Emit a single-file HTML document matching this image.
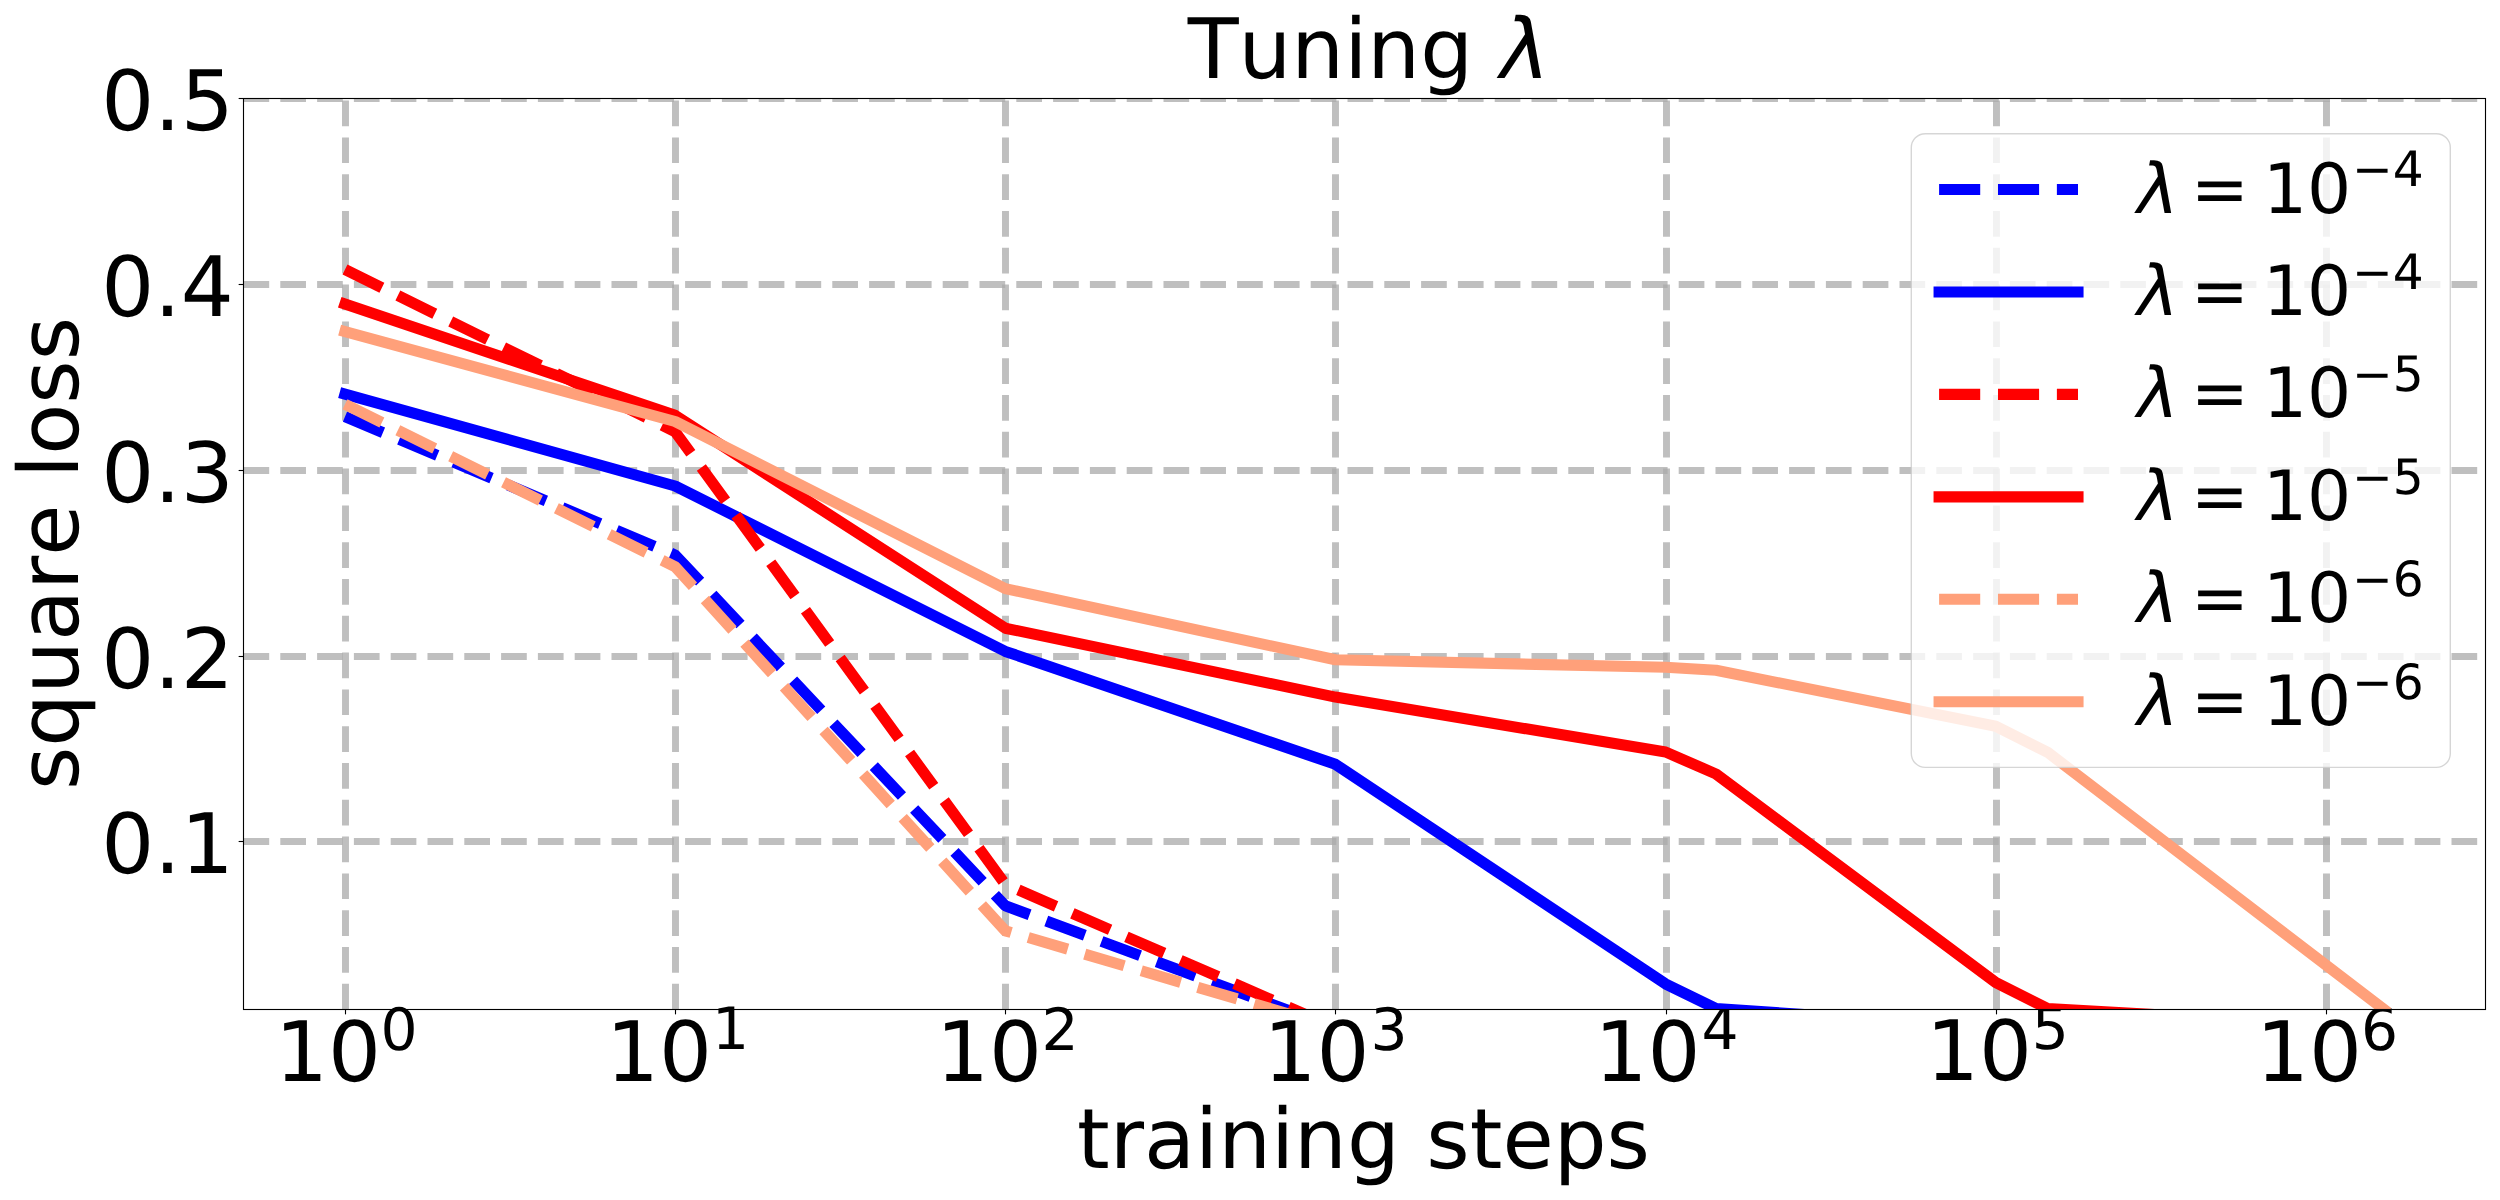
<!DOCTYPE html>
<html lang="en"><head><meta charset="utf-8"><title>Tuning λ</title>
<style>html,body{margin:0;padding:0;background:#fff;}body{width:2500px;height:1200px;overflow:hidden;}svg{display:block;}text{font-family:"DejaVu Sans","Liberation Sans",sans-serif;fill:#000;font-kerning:none;font-variant-ligatures:none;text-rendering:geometricPrecision;}.it{font-style:italic;}</style></head><body>
<svg width="2500" height="1200" viewBox="0 0 2500 1200">
<rect width="2500" height="1200" fill="#fff"/>
<defs><clipPath id="ax"><rect x="243.5" y="98.5" width="2242" height="911"/></clipPath></defs>
<g clip-path="url(#ax)" fill="none">
<g stroke="#a9a9a9" stroke-opacity="0.75" stroke-width="6.94" stroke-dasharray="25.69 11.11">
<path d="M345.5 1009.5 V98.5"/>
<path d="M675.5 1009.5 V98.5"/>
<path d="M1005.5 1009.5 V98.5"/>
<path d="M1335.5 1009.5 V98.5"/>
<path d="M1666.5 1009.5 V98.5"/>
<path d="M1996.5 1009.5 V98.5"/>
<path d="M2326.5 1009.5 V98.5"/>
<path d="M243.5 98.5 H2485.5"/>
<path d="M243.5 284.5 H2485.5"/>
<path d="M243.5 470.5 H2485.5"/>
<path d="M243.5 656.5 H2485.5"/>
<path d="M243.5 841.5 H2485.5"/>
</g></g>
<g stroke="#000" stroke-width="1.11">
<path d="M345.5 1009.5 v4.86"/>
<path d="M675.5 1009.5 v4.86"/>
<path d="M1005.5 1009.5 v4.86"/>
<path d="M1335.5 1009.5 v4.86"/>
<path d="M1666.5 1009.5 v4.86"/>
<path d="M1996.5 1009.5 v4.86"/>
<path d="M2326.5 1009.5 v4.86"/>
<path d="M243.5 98.5 h-4.86"/>
<path d="M243.5 284.5 h-4.86"/>
<path d="M243.5 470.5 h-4.86"/>
<path d="M243.5 656.5 h-4.86"/>
<path d="M243.5 841.5 h-4.86"/>
</g>
<g font-size="83.33">
<text x="233.8" y="129.80" text-anchor="end">0.5</text>
<text x="233.8" y="315.80" text-anchor="end">0.4</text>
<text x="233.8" y="501.80" text-anchor="end">0.3</text>
<text x="233.8" y="687.80" text-anchor="end">0.2</text>
<text x="233.8" y="872.80" text-anchor="end">0.1</text>
<text x="275.00" y="1081.20">10</text><text x="380.50" y="1049.90" font-size="58.33">0</text>
<text x="605.90" y="1081.20">10</text><text x="712.10" y="1049.00" font-size="58.33">1</text>
<text x="935.90" y="1081.20">10</text><text x="1041.50" y="1049.90" font-size="58.33">2</text>
<text x="1263.60" y="1081.20">10</text><text x="1370.50" y="1049.90" font-size="58.33">3</text>
<text x="1594.60" y="1081.20">10</text><text x="1701.40" y="1049.00" font-size="58.33">4</text>
<text x="1926.00" y="1080.40">10</text><text x="2031.80" y="1049.00" font-size="58.33">5</text>
<text x="2256.00" y="1081.20">10</text><text x="2361.00" y="1049.90" font-size="58.33">6</text>
</g>
<g clip-path="url(#ax)" fill="none">
<path d="M345.00 416.70 L675.15 555.00 L1005.30 905.80 L1335.45 1027.80" stroke="#0000ff" stroke-width="11.11" stroke-linejoin="round" stroke-linecap="butt" stroke-dasharray="41.11 17.78"/>
<path d="M345.00 394.20 L675.15 486.00 L1005.30 651.40 L1335.45 764.30 L1665.60 983.90 L1716.00 1008.60 L1995.75 1027.40" stroke="#0000ff" stroke-width="11.11" stroke-linejoin="round" stroke-linecap="square"/>
<path d="M345.00 269.60 L675.15 431.70 L1005.30 884.30 L1335.45 1027.50" stroke="#ff0000" stroke-width="11.11" stroke-linejoin="round" stroke-linecap="butt" stroke-dasharray="41.11 17.78"/>
<path d="M345.00 304.10 L675.15 415.30 L1005.30 628.20 L1335.45 697.10 L1665.60 752.00 L1716.00 774.00 L1995.75 982.50 L2047.50 1008.50 L2383.50 1027.50" stroke="#ff0000" stroke-width="11.11" stroke-linejoin="round" stroke-linecap="square"/>
<path d="M345.00 404.30 L675.15 566.70 L1005.30 930.80 L1335.45 1027.80" stroke="#ffa07a" stroke-width="11.11" stroke-linejoin="round" stroke-linecap="butt" stroke-dasharray="41.11 17.78"/>
<path d="M345.00 331.50 L675.15 421.50 L1005.30 588.60 L1335.45 659.80 L1665.60 667.30 L1716.00 670.30 L1995.75 726.20 L2047.50 752.20 L2383.50 1009.00" stroke="#ffa07a" stroke-width="11.11" stroke-linejoin="round" stroke-linecap="square"/>
</g>
<rect x="243.5" y="98.5" width="2242" height="911" fill="none" stroke="#000" stroke-width="1.11"/>
<g font-size="83.33">
<text x="1363.5" y="1168.1" text-anchor="middle">training steps</text>
<text transform="translate(78 553.5) rotate(-90)" text-anchor="middle">square loss</text>
<text x="1187.65" y="78.3">Tuning</text><text x="1500.2" y="78.3" class="it">λ</text>
</g>
<rect x="1911.3" y="133.7" width="539" height="633.7" rx="13.9" ry="13.9" fill="#fff" fill-opacity="0.8" stroke="#ccc" stroke-opacity="0.8" stroke-width="1.39"/>
<g font-size="69.44">
<path d="M1939.1 189.50 H2078" stroke="#0000ff" stroke-width="11.11" stroke-dasharray="41.11 17.78" fill="none"/>
<text x="2137.25" y="212.55" class="it">λ</text><text x="2190.75" y="212.55">=</text><text x="2262.9" y="212.55">10</text><text x="2352.05" y="186.30" font-size="48.61">−4</text>
<path d="M1939.1 291.94 H2078" stroke="#0000ff" stroke-width="11.11" stroke-linecap="square" fill="none"/>
<text x="2137.25" y="314.99" class="it">λ</text><text x="2190.75" y="314.99">=</text><text x="2262.9" y="314.99">10</text><text x="2352.05" y="288.74" font-size="48.61">−4</text>
<path d="M1939.1 394.38 H2078" stroke="#ff0000" stroke-width="11.11" stroke-dasharray="41.11 17.78" fill="none"/>
<text x="2137.25" y="417.43" class="it">λ</text><text x="2190.75" y="417.43">=</text><text x="2262.9" y="417.43">10</text><text x="2352.05" y="391.18" font-size="48.61">−5</text>
<path d="M1939.1 496.82 H2078" stroke="#ff0000" stroke-width="11.11" stroke-linecap="square" fill="none"/>
<text x="2137.25" y="519.87" class="it">λ</text><text x="2190.75" y="519.87">=</text><text x="2262.9" y="519.87">10</text><text x="2352.05" y="493.62" font-size="48.61">−5</text>
<path d="M1939.1 599.26 H2078" stroke="#ffa07a" stroke-width="11.11" stroke-dasharray="41.11 17.78" fill="none"/>
<text x="2137.25" y="622.31" class="it">λ</text><text x="2190.75" y="622.31">=</text><text x="2262.9" y="622.31">10</text><text x="2352.05" y="596.06" font-size="48.61">−6</text>
<path d="M1939.1 701.70 H2078" stroke="#ffa07a" stroke-width="11.11" stroke-linecap="square" fill="none"/>
<text x="2137.25" y="724.75" class="it">λ</text><text x="2190.75" y="724.75">=</text><text x="2262.9" y="724.75">10</text><text x="2352.05" y="698.50" font-size="48.61">−6</text>
</g>
</svg></body></html>
